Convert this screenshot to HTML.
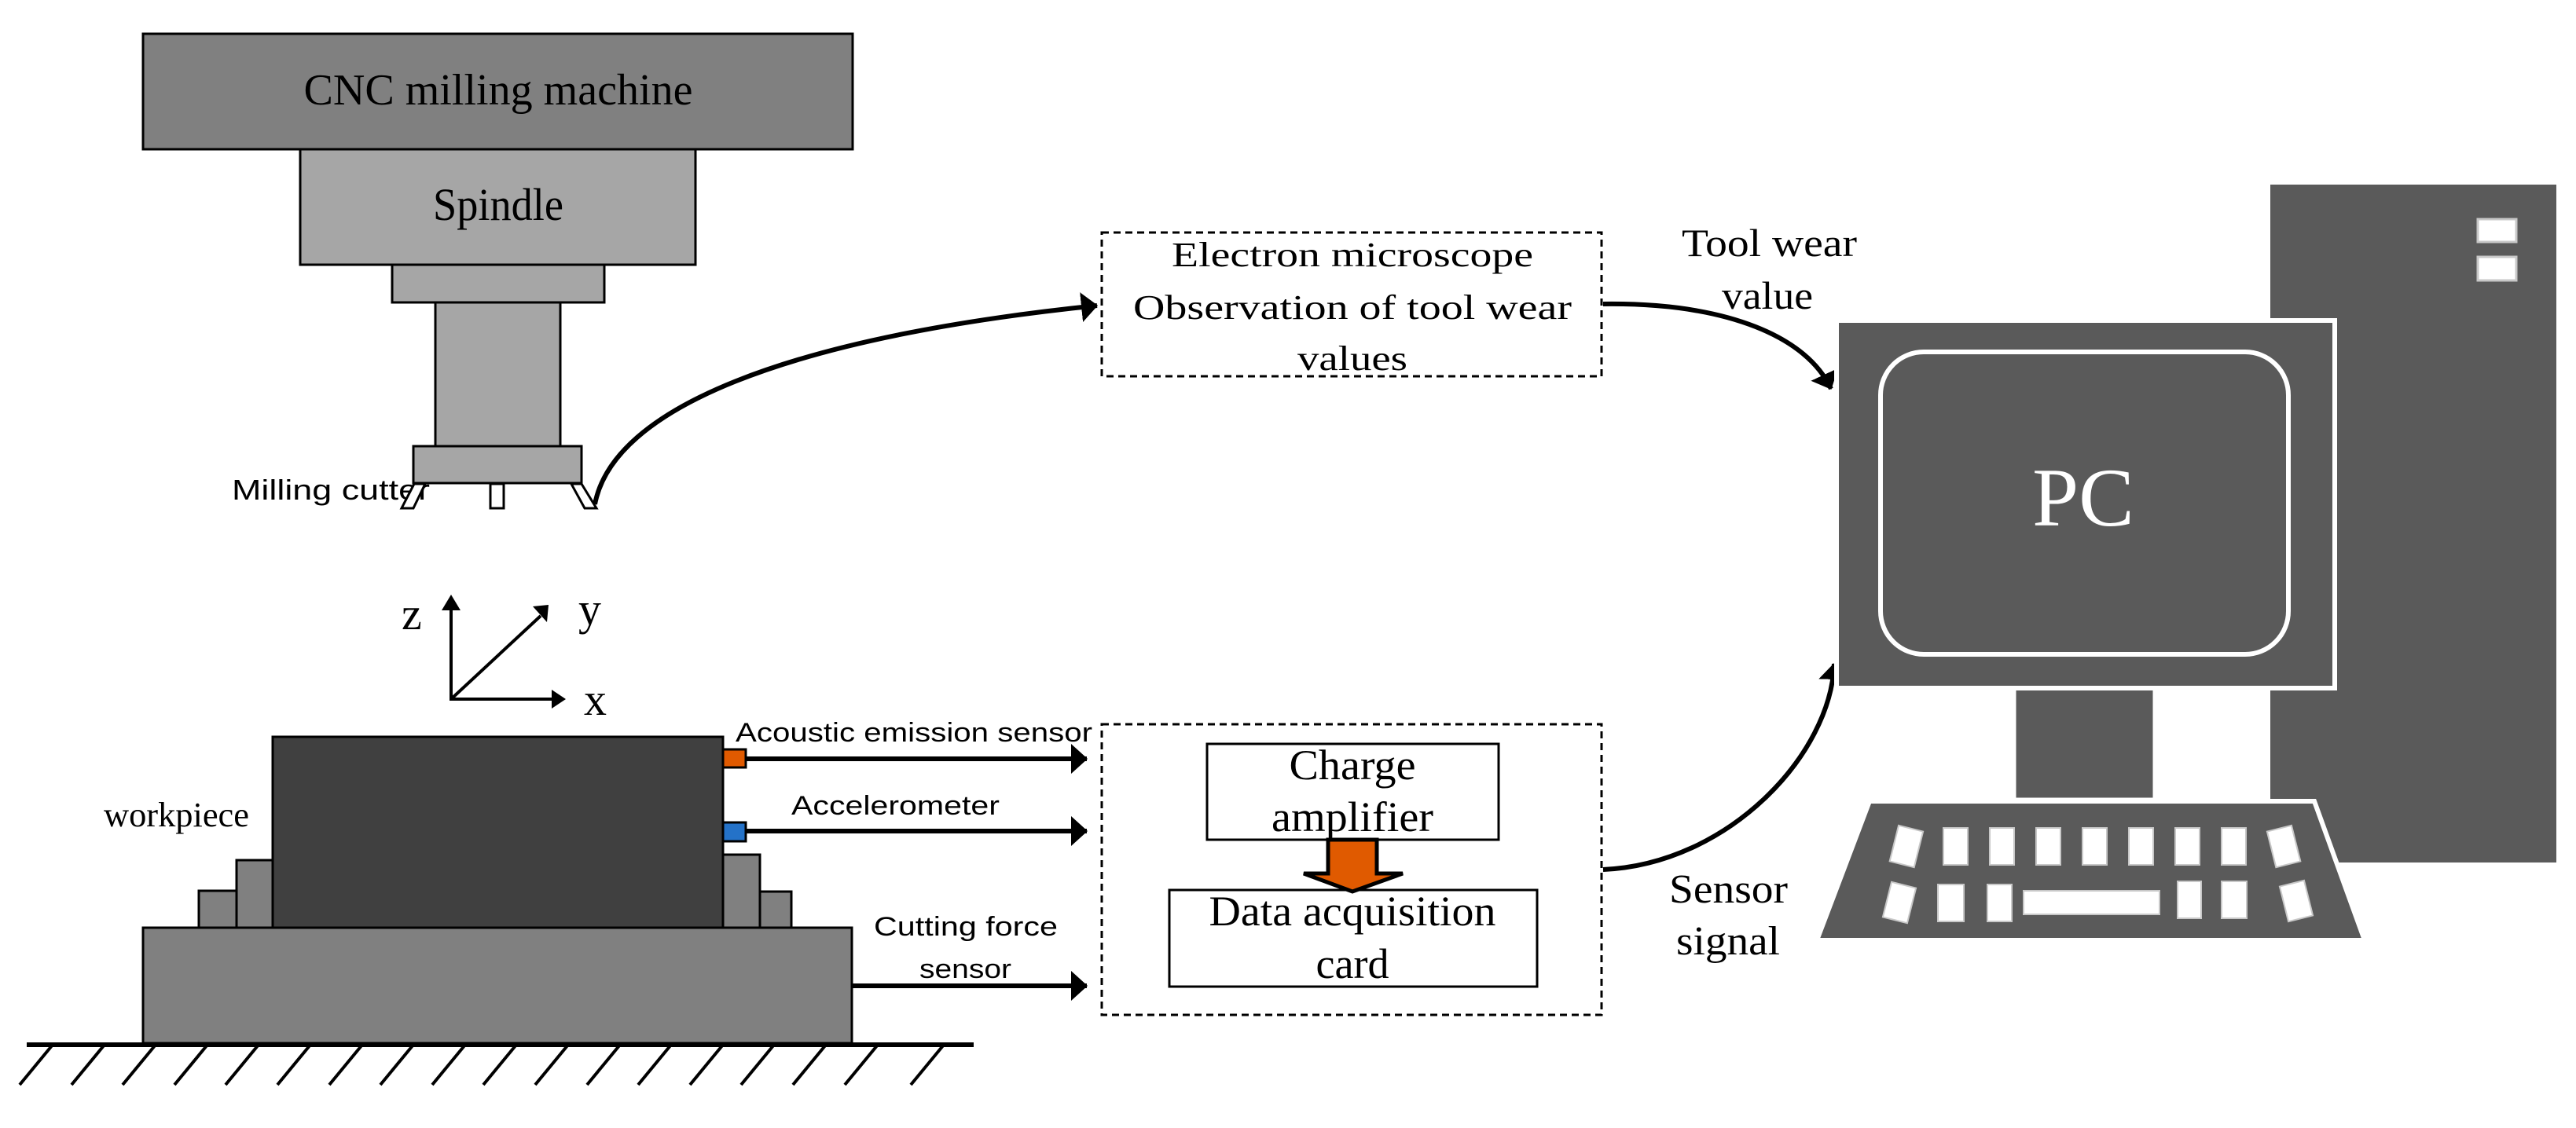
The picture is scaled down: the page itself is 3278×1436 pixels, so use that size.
<!DOCTYPE html>
<html><head><meta charset="utf-8"><style>html,body{margin:0;padding:0;background:#fff}svg{display:block}</style></head>
<body>
<svg width="3278" height="1436" viewBox="0 0 3278 1436" xmlns="http://www.w3.org/2000/svg">
<defs>
<marker id="ah" markerUnits="userSpaceOnUse" markerWidth="24" markerHeight="40" refX="20" refY="20" orient="auto">
<path d="M0,1 L21,20 L0,39 Z" fill="#000"/>
</marker>
</defs>
<rect width="3278" height="1436" fill="#fff"/>

<!-- machine -->
<rect x="182" y="43" width="903" height="147" fill="#808080" stroke="#000" stroke-width="3"/>
<text x="634" y="133" font-family="Liberation Serif, serif" font-size="56" text-anchor="middle" textLength="495" lengthAdjust="spacingAndGlyphs">CNC milling machine</text>
<rect x="382" y="190" width="503" height="147" fill="#a6a6a6" stroke="#000" stroke-width="3"/>
<text x="634" y="280" font-family="Liberation Serif, serif" font-size="58" text-anchor="middle" textLength="166" lengthAdjust="spacingAndGlyphs">Spindle</text>
<rect x="499" y="337" width="270" height="48" fill="#a6a6a6" stroke="#000" stroke-width="3"/>
<rect x="554" y="385" width="159" height="183" fill="#a6a6a6" stroke="#000" stroke-width="3"/>
<rect x="526" y="568" width="214" height="47" fill="#a6a6a6" stroke="#000" stroke-width="3"/>
<text x="295" y="636" font-family="Liberation Sans, sans-serif" font-size="36" textLength="252" lengthAdjust="spacingAndGlyphs">Milling cutter</text>
<polygon points="527,616 541,616 526,647 511,647" fill="#fff" stroke="#000" stroke-width="3"/>
<rect x="624" y="616" width="17" height="31" fill="#fff" stroke="#000" stroke-width="3"/>
<polygon points="727,616 740,616 759,647 744,647" fill="#fff" stroke="#000" stroke-width="3"/>
<path d="M757,642 C 780,520 1000,430 1396,389" fill="none" stroke="#000" stroke-width="6" marker-end="url(#ah)"/>

<!-- axes -->
<line x1="574" y1="892" x2="574" y2="775" stroke="#000" stroke-width="4"/>
<path d="M562,777 L574,757 L586,777 Z" fill="#000"/>
<line x1="574" y1="890" x2="704" y2="890" stroke="#000" stroke-width="4"/>
<path d="M702,878 L720,890 L702,902 Z" fill="#000"/>
<line x1="574" y1="890" x2="688" y2="784" stroke="#000" stroke-width="4"/>
<path d="M678,772 L698,770 L696,792 Z" fill="#000"/>
<text x="511" y="801" font-family="Liberation Serif, serif" font-size="58">z</text>
<text x="736" y="795" font-family="Liberation Serif, serif" font-size="58">y</text>
<text x="743" y="910" font-family="Liberation Serif, serif" font-size="58">x</text>

<!-- workpiece -->
<rect x="253" y="1134" width="48" height="47" fill="#808080" stroke="#000" stroke-width="3"/>
<rect x="301" y="1095" width="46" height="86" fill="#808080" stroke="#000" stroke-width="3"/>
<rect x="967" y="1135" width="40" height="46" fill="#808080" stroke="#000" stroke-width="3"/>
<rect x="920" y="1088" width="47" height="93" fill="#808080" stroke="#000" stroke-width="3"/>
<rect x="347" y="938" width="573" height="243" fill="#404040" stroke="#000" stroke-width="3"/>
<rect x="182" y="1181" width="902" height="147" fill="#808080" stroke="#000" stroke-width="3"/>
<line x1="34" y1="1330" x2="1239" y2="1330" stroke="#000" stroke-width="6"/>
<g stroke="#000" stroke-width="4">
<line x1="67" y1="1330" x2="25" y2="1381"/><line x1="133" y1="1330" x2="91" y2="1381"/><line x1="198" y1="1330" x2="156" y2="1381"/><line x1="264" y1="1330" x2="222" y2="1381"/><line x1="329" y1="1330" x2="287" y2="1381"/><line x1="395" y1="1330" x2="353" y2="1381"/><line x1="461" y1="1330" x2="419" y2="1381"/><line x1="526" y1="1330" x2="484" y2="1381"/><line x1="592" y1="1330" x2="550" y2="1381"/><line x1="657" y1="1330" x2="615" y2="1381"/><line x1="723" y1="1330" x2="681" y2="1381"/><line x1="789" y1="1330" x2="747" y2="1381"/><line x1="854" y1="1330" x2="812" y2="1381"/><line x1="920" y1="1330" x2="878" y2="1381"/><line x1="985" y1="1330" x2="943" y2="1381"/><line x1="1051" y1="1330" x2="1009" y2="1381"/><line x1="1117" y1="1330" x2="1075" y2="1381"/><line x1="1201" y1="1330" x2="1159" y2="1381"/>
</g>
<text x="132" y="1052" font-family="Liberation Serif, serif" font-size="44" textLength="185" lengthAdjust="spacingAndGlyphs">workpiece</text>
<rect x="920" y="954" width="29" height="23" fill="#e05a00" stroke="#000" stroke-width="3"/>
<rect x="920" y="1047" width="29" height="24" fill="#2472c8" stroke="#000" stroke-width="3"/>
<line x1="949" y1="966" x2="1383" y2="966" stroke="#000" stroke-width="6" marker-end="url(#ah)"/>
<line x1="949" y1="1058" x2="1383" y2="1058" stroke="#000" stroke-width="6" marker-end="url(#ah)"/>
<line x1="1084" y1="1255" x2="1383" y2="1255" stroke="#000" stroke-width="6" marker-end="url(#ah)"/>
<text x="936" y="944" font-family="Liberation Sans, sans-serif" font-size="34" textLength="454" lengthAdjust="spacingAndGlyphs">Acoustic emission sensor</text>
<text x="1007" y="1037" font-family="Liberation Sans, sans-serif" font-size="34" textLength="265" lengthAdjust="spacingAndGlyphs">Accelerometer</text>
<text x="1112" y="1191" font-family="Liberation Sans, sans-serif" font-size="34" textLength="234" lengthAdjust="spacingAndGlyphs">Cutting force</text>
<text x="1170" y="1245" font-family="Liberation Sans, sans-serif" font-size="34" textLength="117" lengthAdjust="spacingAndGlyphs">sensor</text>

<!-- microscope box -->
<rect x="1402" y="296" width="636" height="183" fill="#fff" stroke="#000" stroke-width="3" stroke-dasharray="9,6"/>
<g font-family="Liberation Serif, serif" font-size="44" text-anchor="middle">
<text x="1721" y="339" textLength="460" lengthAdjust="spacingAndGlyphs">Electron microscope</text>
<text x="1721" y="406" textLength="558" lengthAdjust="spacingAndGlyphs">Observation of tool wear</text>
<text x="1721" y="471" textLength="140" lengthAdjust="spacingAndGlyphs">values</text>
</g>
<path d="M2040,387 C 2200,385 2300,430 2330,495" fill="none" stroke="#000" stroke-width="6" marker-end="url(#ah)"/>
<g font-family="Liberation Serif, serif" font-size="50">
<text x="2140" y="326" textLength="223" lengthAdjust="spacingAndGlyphs">Tool wear</text>
<text x="2191" y="393" textLength="116" lengthAdjust="spacingAndGlyphs">value</text>
</g>

<!-- acquisition box -->
<rect x="1402" y="922" width="636" height="370" fill="#fff" stroke="#000" stroke-width="3" stroke-dasharray="9,6"/>
<rect x="1536" y="947" width="371" height="122" fill="#fff" stroke="#000" stroke-width="3"/>
<rect x="1488" y="1133" width="468" height="123" fill="#fff" stroke="#000" stroke-width="3"/>
<polygon points="1690,1069 1752,1069 1752,1112 1785,1112 1721,1135 1659,1112 1690,1112" fill="#e05a00" stroke="#000" stroke-width="5" stroke-linejoin="miter"/>
<g font-family="Liberation Serif, serif" font-size="54" text-anchor="middle">
<text x="1721" y="992" textLength="161" lengthAdjust="spacingAndGlyphs">Charge</text>
<text x="1721" y="1058" textLength="206" lengthAdjust="spacingAndGlyphs">amplifier</text>
<text x="1721" y="1178" textLength="365" lengthAdjust="spacingAndGlyphs">Data acquisition</text>
<text x="1721" y="1245" textLength="93" lengthAdjust="spacingAndGlyphs">card</text>
</g>
<path d="M2040,1107 C 2200,1100 2330,960 2334,845" fill="none" stroke="#000" stroke-width="6" marker-end="url(#ah)"/>
<g font-family="Liberation Serif, serif" font-size="52">
<text x="2124" y="1149" textLength="151" lengthAdjust="spacingAndGlyphs">Sensor</text>
<text x="2133" y="1215" textLength="132" lengthAdjust="spacingAndGlyphs">signal</text>
</g>

<!-- PC -->
<rect x="2889" y="235" width="364" height="863" fill="#5a5a5a"/>
<rect x="3153" y="279" width="49" height="29" fill="#fff" stroke="#c8c8c8" stroke-width="3"/>
<rect x="3153" y="327" width="49" height="30" fill="#fff" stroke="#c8c8c8" stroke-width="3"/>
<polygon points="2379,1020 2945,1020 3009,1197 2312,1197" fill="#5a5a5a" stroke="#fff" stroke-width="6"/>
<rect x="2563" y="872" width="179" height="146" fill="#5a5a5a" stroke="#fff" stroke-width="5"/>
<rect x="2337" y="408" width="634" height="468" fill="#5a5a5a" stroke="#fff" stroke-width="6"/>
<rect x="2393" y="448" width="519" height="385" rx="55" fill="none" stroke="#fff" stroke-width="6"/>
<text x="2651" y="669" font-family="Liberation Serif, serif" font-size="106" fill="#fff" text-anchor="middle">PC</text>
<g fill="#fff" stroke="#c8c8c8" stroke-width="2">
<rect x="2410" y="1054" width="32" height="47" transform="rotate(14 2426 1077)"/>
<rect x="2473" y="1054" width="31" height="47"/>
<rect x="2532" y="1054" width="31" height="47"/>
<rect x="2591" y="1054" width="31" height="47"/>
<rect x="2650" y="1054" width="31" height="47"/>
<rect x="2709" y="1054" width="31" height="47"/>
<rect x="2768" y="1054" width="31" height="47"/>
<rect x="2827" y="1054" width="31" height="47"/>
<rect x="2890" y="1054" width="32" height="47" transform="rotate(-14 2906 1077)"/>
<rect x="2401" y="1126" width="32" height="46" transform="rotate(14 2417 1149)"/>
<rect x="2466" y="1126" width="33" height="47"/>
<rect x="2529" y="1126" width="31" height="47"/>
<rect x="2575" y="1134" width="173" height="30"/>
<rect x="2771" y="1122" width="30" height="47"/>
<rect x="2827" y="1122" width="32" height="47"/>
<rect x="2906" y="1124" width="32" height="46" transform="rotate(-14 2922 1147)"/>
</g>
</svg>
</body></html>
